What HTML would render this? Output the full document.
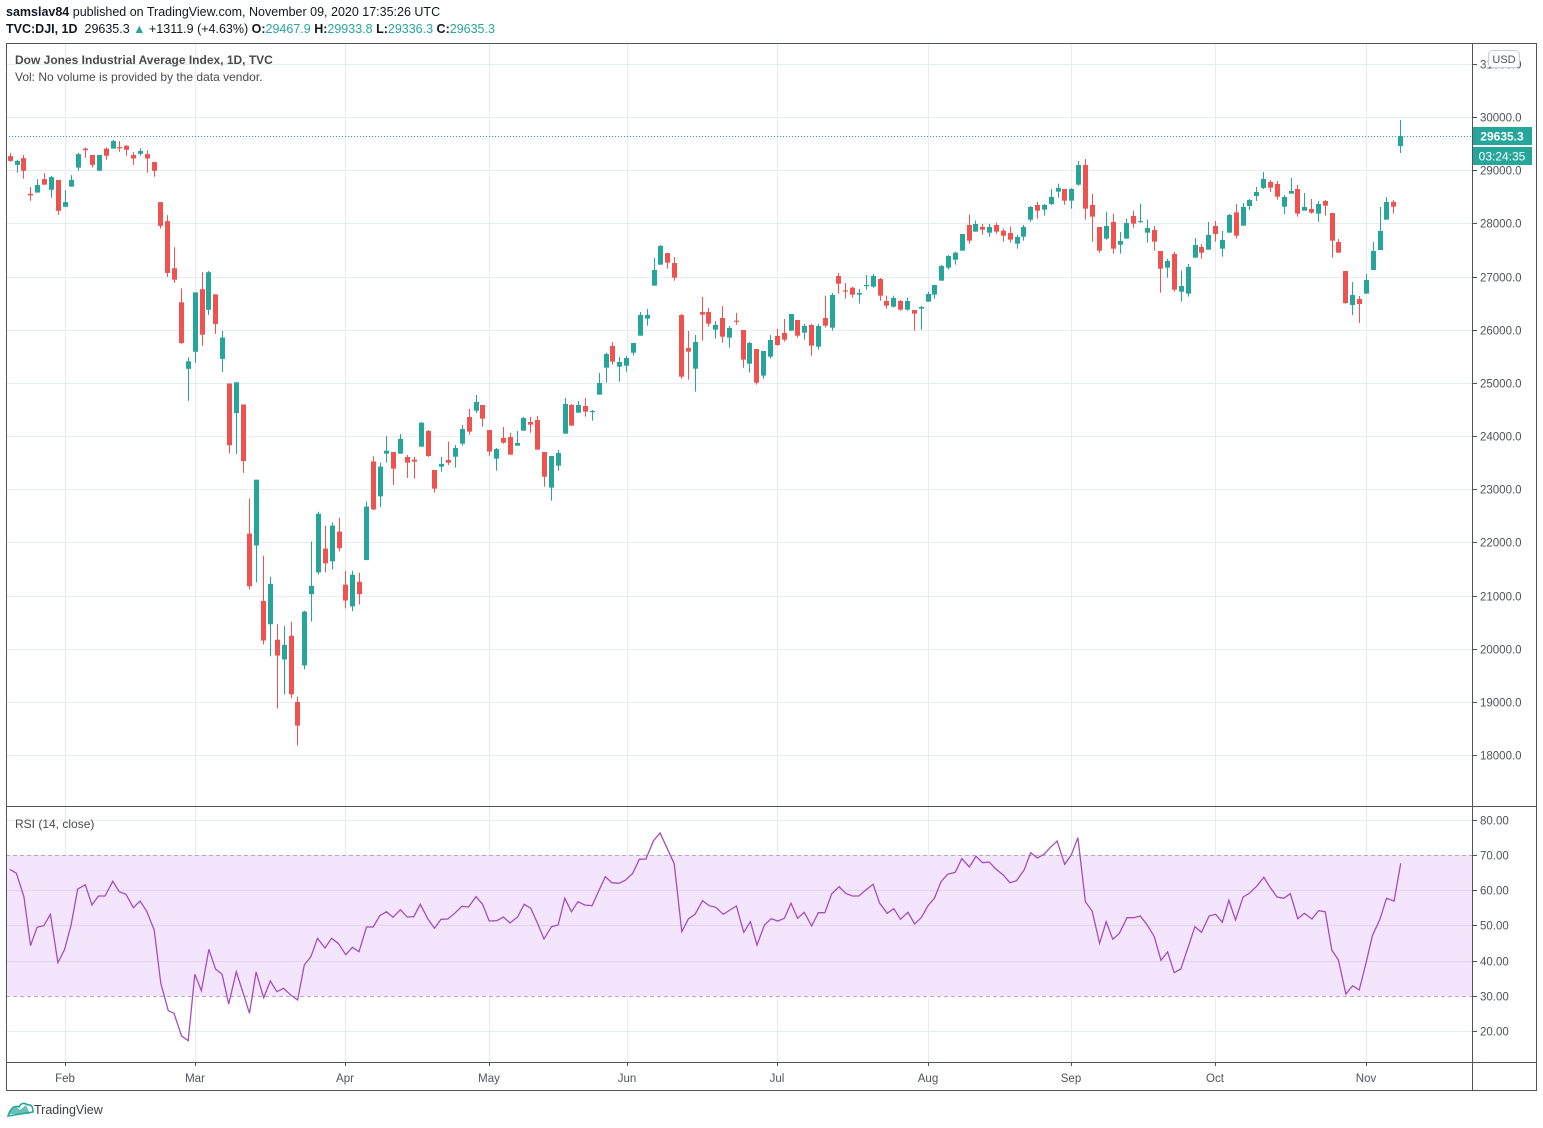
<!DOCTYPE html>
<html><head><meta charset="utf-8">
<style>
html,body{margin:0;padding:0;background:#fff;}
body{width:1543px;height:1128px;overflow:hidden;position:relative;font-family:"Liberation Sans",sans-serif;}
.t{position:absolute;white-space:nowrap;color:#131722;font-size:12.5px;}
svg{position:absolute;left:0;top:0;}
</style></head><body>
<div class="t" style="left:6px;top:5px;"><b>samslav84</b> published on TradingView.com, November 09, 2020 17:35:26 UTC</div>
<div class="t" style="left:6px;top:22px;"><b>TVC:DJI, 1D</b>&nbsp; 29635.3 <span style="color:#26a69a">▲</span> +1311.9 (+4.63%) <b>O:</b><span style="color:#26a69a">29467.9</span> <b>H:</b><span style="color:#26a69a">29933.8</span> <b>L:</b><span style="color:#26a69a">29336.3</span> <b>C:</b><span style="color:#26a69a">29635.3</span></div>
<svg id="s" width="1543" height="1128" xmlns="http://www.w3.org/2000/svg" font-family="Liberation Sans, sans-serif">
<g id="grid"></g>
<rect x="6" y="855" width="1467" height="141" fill="#f3e6fc"/>
<g id="grid2"></g>
<line x1="6" y1="855.5" x2="1473" y2="855.5" stroke="#b8a8c4" stroke-dasharray="4,3"/>
<line x1="6" y1="996.5" x2="1473" y2="996.5" stroke="#b8a8c4" stroke-dasharray="4,3"/>
<g id="candles"></g>
<polyline id="rsi" fill="none" stroke="#a64dbd" stroke-width="1.3" points=""/>
<line x1="6" y1="136.5" x2="1473" y2="136.5" stroke="#26a69a" stroke-dasharray="1,2"/>
<rect x="6.5" y="43.5" width="1530" height="1047" fill="none" stroke="#50535e"/>
<line x1="1472.5" y1="43" x2="1472.5" y2="1091" stroke="#50535e"/>
<line x1="6" y1="806.5" x2="1537" y2="806.5" stroke="#50535e"/>
<line x1="6" y1="1062.5" x2="1537" y2="1062.5" stroke="#50535e"/>
<g id="axis" font-size="11.5" fill="#50535e"></g>
<text x="15" y="64" font-size="12" fill="#4a4a4a" font-weight="bold">Dow Jones Industrial Average Index, 1D, TVC</text>
<text x="15" y="81" font-size="12" fill="#4a4a4a">Vol: No volume is provided by the data vendor.</text>
<text x="15" y="828" font-size="12" fill="#4a4a4a">RSI (14, close)</text>
<rect x="1488.5" y="50.5" width="31" height="17" rx="4" fill="#fff" stroke="#c9cbe0"/>
<text x="1504" y="63" font-size="11" fill="#50535e" text-anchor="middle">USD</text>
<rect x="1473" y="127" width="59" height="18" fill="#26a69a"/>
<text x="1502" y="140.5" font-size="12" fill="#fff" font-weight="bold" text-anchor="middle">29635.3</text>
<rect x="1473" y="147" width="59" height="18" fill="#26a69a"/>
<text x="1502" y="160.5" font-size="12" fill="#fff" text-anchor="middle">03:24:35</text>
<path d="M8 1114 l7 -8 l5 4 l6 -5 l4 9 z" fill="#26a69a" opacity="0.7"/>
<path d="M8 1116 q4 -12 11 -9 q3 -6 9 -2 q5 -1 5 7 z" fill="none" stroke="#26a69a" stroke-width="1.6"/>
<text x="34" y="1114" font-size="12.5" fill="#3b3e47">TradingView</text>
</svg>
<script>
var NS="http://www.w3.org/2000/svg";
function el(p,n,a){var e=document.createElementNS(NS,n);for(var k in a)e.setAttribute(k,a[k]);p.appendChild(e);return e;}
var grid=document.getElementById('grid'),grid2=document.getElementById('grid2'),ax=document.getElementById('axis');
var months=[["Feb",65],["Mar",195],["Apr",345],["May",489],["Jun",627],["Jul",777],["Aug",928],["Sep",1071],["Oct",1215],["Nov",1366]];
months.forEach(function(m){
 el(grid,'line',{x1:m[1]+.5,y1:44,x2:m[1]+.5,y2:1062,stroke:'#e6ecf2'});
 el(ax,'line',{x1:m[1]+.5,y1:1062,x2:m[1]+.5,y2:1066,stroke:'#50535e'});
 var t=el(ax,'text',{x:m[1],y:1082,'text-anchor':'middle'});t.textContent=m[0];
});
function py(p){return 117+(30000-p)*0.05317;}
for(var p=18000;p<=31000;p+=1000){var y=Math.round(py(p))+.5;
 el(grid,'line',{x1:6,y1:y,x2:1473,y2:y,stroke:'#e6ecf2'});
 el(ax,'line',{x1:1473,y1:y,x2:1477,y2:y,stroke:'#50535e'});
 var t=el(ax,'text',{x:1480,y:y+4});t.textContent=p.toFixed(1);}
function ry(v){return 855+(70-v)*3.52;}
[80,60,50,40,20].forEach(function(v){var y=Math.round(ry(v))+.5;
 el(v>30&&v<70?grid2:grid,'line',{x1:6,y1:y,x2:1473,y2:y,stroke:v>30&&v<70?'#e0d4ea':'#e6ecf2'});});
[80,70,60,50,40,30,20].forEach(function(v){var y=Math.round(ry(v))+.5;
 el(ax,'line',{x1:1473,y1:y,x2:1477,y2:y,stroke:'#50535e'});
 var t=el(ax,'text',{x:1480,y:y+4});t.textContent=v.toFixed(2);});
var cg=document.getElementById('candles');
function add(list,tx,ty){list.forEach(function(c){
 var x=Math.round(tx(c[0])),col=c[5]=='g'?'#26a69a':'#ef5350';
 var bt=ty(c[1]),bb=ty(c[2]),wt=ty(c[3]),wb=ty(c[4]);
 el(cg,'rect',{x:x,y:wt,width:1,height:Math.max(1,wb-wt),fill:col});
 el(cg,'rect',{x:x-2,y:bt,width:5,height:Math.max(1.2,bb-bt),fill:col});});}
add([[13,66,78,58,80,'r'],[34,78,88,75,108,'g'],[52,71,103,63,123,'r'],[73,161,165,144,179,'r'],[94,139,158,124,158,'g'],[115,124,138,109,138,'r'],[136,119,151,116,171,'g'],[157,126,204,126,214,'r'],[178,182,194,152,194,'g'],[196,126,143,114,143,'g'],[217,61,95,58,103,'g'],[238,47,51,44,70,'r'],[259,63,88,63,95,'r'],[280,63,103,63,103,'g'],[301,47,65,44,75,'r'],[322,28,47,25,47,'g'],[340,43,45,28,55,'r'],[361,40,50,38,65,'r'],[382,63,72,56,88,'r'],[403,53,60,46,65,'g'],[424,61,72,51,108,'r'],[445,81,103,81,118,'r'],[463,182,242,182,249,'r'],[484,230,361,215,371,'r'],[505,349,378,296,386,'r'],[526,435,538,400,540,'r'],[547,584,603,574,684,'g'],[568,410,560,410,588,'g'],[589,402,517,359,545,'r'],[607,359,454,356,467,'g'],[628,415,490,415,515,'r'],[649,524,578,507,611,'g'],[670,640,796,640,816,'r'],[691,637,715,637,818,'g'],[712,693,836,693,866,'r'],[730,1019,1152,931,1160,'r'],[751,883,1049,883,1142,'g'],[772,1189,1289,1075,1299,'r'],[793,1146,1248,1128,1329,'g'],[814,1287,1327,1247,1461,'r'],[835,1300,1337,1252,1425,'g'],[856,1277,1425,1242,1435,'r'],[874,1444,1504,1431,1554,'r'],[895,1216,1352,1214,1362,'g'],[916,1151,1172,1039,1241,'g'],[937,969,1117,964,1122,'g'],[958,1057,1094,999,1117,'r'],[979,999,1089,991,1109,'g'],[1000,1014,1056,979,1064,'r'],[1018,1148,1188,1113,1208,'r'],[1039,1123,1203,1113,1215,'g'],[1060,1141,1172,1118,1198,'r'],[1081,951,1086,938,1086,'g'],[1102,837,958,824,960,'r'],[1123,850,925,840,952,'g']],
 function(z){return 6+z/3;},function(z){return 170+(z-101)/2.525;});
add([[19,662,671,618,698,'g'],[40,666,716,666,765,'r'],[61,627,671,612,671,'g'],[82,681,698,675,744,'r'],[103,689,695,681,746,'r'],[124,578,650,576,650,'g'],[145,603,678,600,681,'r'],[163,720,776,720,788,'r'],[184,702,710,681,725,'g'],[205,690,698,635,705,'r'],[226,654,680,645,713,'g'],[247,597,641,585,647,'g'],[268,561,605,537,614,'r'],[289,516,542,495,549,'g'],[307,525,566,525,590,'r'],[328,600,665,600,677,'r'],[349,657,686,654,722,'g'],[370,624,638,591,641,'r'],[391,621,674,608,674,'r'],[412,639,647,603,647,'g'],[430,564,602,561,602,'g'],[451,576,584,561,608,'r'],[472,570,659,558,659,'r'],[493,666,740,666,770,'r'],[514,678,773,678,812,'g'],[535,669,707,660,722,'g'],[556,522,611,504,611,'g'],[574,525,587,522,587,'r'],[595,525,548,513,548,'g'],[616,528,545,504,560,'r'],[637,543,545,540,572,'g'],[658,459,494,429,494,'g'],[679,372,413,369,458,'g'],[697,348,395,336,404,'r'],[718,396,410,381,455,'g'],[739,384,407,378,425,'g'],[760,339,368,339,377,'g'],[781,255,317,246,317,'g'],[802,255,266,237,287,'g'],[823,120,167,84,167,'g'],[841,48,104,45,104,'g'],[862,69,98,69,116,'r'],[883,99,143,81,152,'r'],[904,255,440,252,446,'r'],[925,354,365,303,449,'r'],[946,336,416,315,485,'g'],[967,246,254,201,332,'r'],[985,246,281,234,290,'r'],[1006,285,299,273,326,'g'],[1027,264,320,228,338,'r'],[1048,294,323,288,353,'g'],[1069,272,275,249,284,'r'],[1090,300,389,300,413,'r'],[1108,339,401,336,428,'g'],[1129,357,458,357,464,'r'],[1150,363,437,363,446,'g'],[1171,330,380,315,386,'g'],[1192,318,345,297,347,'r'],[1213,309,329,267,335,'r'],[1234,252,302,252,302,'g'],[1252,270,317,270,323,'r']],
 function(z){return 380+z/3;},function(z){return 230+z/3;});
add([[43,528,548,521,569,'g'],[64,525,587,521,617,'r'],[85,528,590,521,599,'g'],[106,504,527,437,533,'r'],[127,435,533,429,542,'g'],[145,378,401,369,431,'r'],[166,421,423,399,446,'r'],[187,413,434,410,443,'r'],[208,429,434,417,461,'g'],[229,405,407,375,419,'g'],[250,378,410,372,413,'g'],[271,387,437,384,452,'r'],[289,453,467,437,476,'r'],[310,444,470,437,473,'g'],[331,453,479,450,482,'r'],[352,453,479,443,482,'g'],[373,480,491,480,542,'r'],[394,471,476,467,539,'g'],[415,432,455,425,455,'g'],[433,405,434,405,446,'g'],[454,348,392,345,392,'g'],[475,318,353,315,359,'g'],[496,308,329,305,344,'g'],[517,252,302,252,302,'g'],[538,225,272,194,281,'r'],[556,222,245,212,245,'g'],[577,231,239,222,254,'r'],[598,231,248,222,260,'g'],[619,225,245,218,251,'r'],[640,242,257,236,275,'r'],[661,249,269,230,278,'r'],[682,261,281,254,296,'g'],[700,231,260,225,272,'g'],[721,171,209,168,215,'g'],[742,165,182,156,206,'r'],[763,165,179,162,197,'g'],[784,141,162,117,165,'g'],[805,114,125,101,143,'g'],[823,117,152,117,164,'r'],[844,117,152,114,176,'g'],[865,45,104,33,107,'g'],[886,45,176,27,209,'r'],[907,165,200,132,275,'r'],[928,231,302,231,308,'r'],[949,228,266,185,269,'g'],[970,216,296,191,311,'r'],[991,273,284,246,311,'g'],[1009,219,266,206,266,'g'],[1030,198,221,182,233,'r'],[1051,213,215,161,218,'g'],[1072,234,248,209,278,'g'],[1093,240,275,228,302,'r'],[1111,303,356,303,428,'r'],[1132,333,353,326,383,'g'],[1153,312,419,305,425,'r'],[1174,408,425,362,455,'g'],[1195,351,431,342,440,'g'],[1216,285,323,264,323,'g'],[1234,291,308,282,326,'r'],[1255,255,299,216,299,'g']],
 function(z){return 790+z/3;},function(z){return 150+z/3;});
add([[46,528,552,513,575,'r'],[67,570,596,543,620,'g'],[88,495,548,492,548,'g'],[109,487,557,462,566,'r'],[130,471,527,459,527,'g'],[148,450,468,447,480,'g'],[169,426,438,411,453,'g'],[190,387,414,366,417,'g'],[211,396,413,390,426,'r'],[232,402,440,393,449,'r'],[253,441,470,435,492,'g'],[274,423,431,384,431,'g'],[292,417,491,405,500,'r'],[313,471,482,429,482,'g'],[334,477,488,447,491,'r'],[355,462,491,453,516,'g'],[376,453,467,450,497,'r'],[397,489,572,489,623,'r'],[415,576,608,567,608,'r'],[436,663,759,663,762,'r'],[457,735,765,696,795,'g'],[478,747,762,738,819,'r'],[499,690,731,672,731,'g'],[520,603,660,576,660,'g'],[541,543,600,471,600,'g'],[559,456,509,441,509,'g'],[580,456,470,450,491,'r'],[601,258,288,210,309,'g']],
 function(z){return 1200+z/3;},function(z){return 50+z/3;});
var r1=[[8,163],[22,175],[38,245],[52,392],[66,337],[80,332],[94,298],[110,443],[124,404],[138,330],[152,222],[168,209],[182,270],[196,243],[210,243],[226,199],[240,230],[254,238],[270,278],[284,258],[298,288],[314,345],[328,505],[344,587],[356,595],[372,663],[386,677],[400,478],[414,527],[430,403],[444,462],[458,478],[472,567],[488,470],[502,532],[516,595],[530,471],[546,548],[560,498],[574,530],[588,520],[604,541],[618,555],[632,450],[646,425],[660,370],[676,399],[690,370],[704,385],[720,419],[734,397],[748,410],[764,336],[778,336],[792,302],[806,290],[820,307],[836,284],[850,306],[864,305],[878,268],[894,312],[908,340],[922,313],[936,312],[950,296],[966,274],[980,276],[996,245],[1010,268],[1024,318],[1040,317],[1054,306],[1068,324],[1084,306],[1098,268],[1112,280],[1126,324],[1140,372],[1156,335],[1170,330],[1184,250],[1198,290],[1212,260],[1226,270],[1242,272],[1256,228],[1270,185],[1284,203],[1298,205],[1312,196],[1328,175],[1342,133],[1356,132],[1372,77],[1386,54],[1400,97],[1416,146],[1432,350],[1446,312],[1460,298],[1476,257],[1490,272],[1504,277],[1520,298],[1534,285],[1548,273]];
var r2=[[0,312],[8,352],[22,320],[36,390],[52,330],[66,311],[80,318],[94,310],[108,265],[122,310],[136,292],[152,333],[166,293],[180,293],[194,237],[210,215],[224,235],[238,243],[252,243],[266,226],[282,208],[296,265],[312,295],[326,281],[340,313],[356,292],[370,327],[384,308],[398,273],[412,250],[426,200],[440,178],[456,172],[470,131],[486,156],[500,124],[514,143],[528,141],[542,162],[558,180],[572,203],[586,197],[602,165],[616,113],[630,129],[644,118],[658,97],[672,78],[688,148],[702,120],[716,68],[732,260],[746,288],[762,385],[776,320],[790,373],[804,355],[820,308],[834,308],[848,303],[862,328],[878,365],[892,436],[906,411],[920,473],[934,462],[950,395],[964,335],[978,352],[994,303],[1008,298],[1022,322],[1036,256],[1050,315],[1066,246],[1080,234],[1096,212],[1110,187],[1124,218],[1138,246],[1152,250],[1166,236],[1182,311],[1196,295],[1212,312],[1226,287],[1240,290],[1254,405],[1268,435],[1284,537],[1298,512],[1312,525],[1326,447],[1340,362],[1356,313],[1370,250],[1386,258],[1400,145]];
var pts=r1.map(function(p){return (6+p[0]/2.119).toFixed(1)+','+(815+p[1]/3).toFixed(1);}).concat(r2.map(function(p){return (740+p[0]/2.119).toFixed(1)+','+(815+p[1]/3).toFixed(1);}));
document.getElementById('rsi').setAttribute('points',pts.join(' '));
</script>
</body></html>
